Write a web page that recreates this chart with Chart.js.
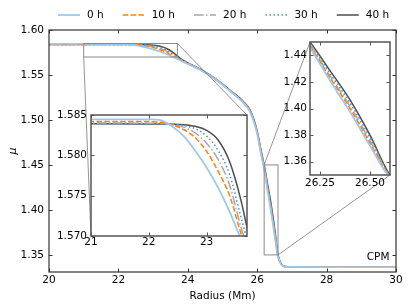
<!DOCTYPE html>
<html>
<head>
<meta charset="utf-8">
<script src="https://cdn.jsdelivr.net/npm/chart.js@4.4.1/dist/chart.umd.min.js"></script>
<style>
  html, body { margin: 0; padding: 0; background: #fff; }
  #wrap { position: relative; width: 411px; height: 308px; }
  #wrap canvas { position: absolute; left: 0; top: 0; }
</style>
</head>
<body>
<div id="wrap">
  <canvas id="main" width="411" height="308"></canvas>
  <canvas id="zoomLeft" width="411" height="308"></canvas>
  <canvas id="zoomRight" width="411" height="308"></canvas>
</div>
<script>
// Radius grid (Mm) shared by all profiles
const radius = [20, 21, 22, 22.2, 22.4, 22.6, 22.8, 23.0, 23.2, 23.4, 23.6, 23.8, 24.0, 24.4, 24.8,
                25.2, 25.6, 25.8, 26.0, 26.1, 26.2, 26.3, 26.4, 26.5, 26.6, 26.7, 26.8, 27.0, 28, 30];

// mean molecular weight at each time
const mu0h  = [1.58447, 1.58447, 1.58445, 1.58435, 1.5836, 1.5824, 1.5806, 1.5785, 1.5760, 1.5730, 1.5695, 1.5658, 1.5622, 1.5548, 1.5450,
               1.5325, 1.5190, 1.5085, 1.4845, 1.4640, 1.4455, 1.4210, 1.3975, 1.3720, 1.3480, 1.3390, 1.3370, 1.3366, 1.3365, 1.3365];
const mu10h = [1.5842, 1.5842, 1.58418, 1.5841, 1.5838, 1.5832, 1.5822, 1.5805, 1.5780, 1.5750, 1.5702, 1.5662, 1.5626, 1.5550, 1.5452,
               1.5330, 1.5195, 1.5092, 1.4855, 1.4652, 1.4468, 1.4232, 1.4000, 1.3742, 1.3485, 1.3392, 1.3370, 1.3366, 1.3365, 1.3365];
const mu20h = [1.5840, 1.5840, 1.58398, 1.58395, 1.5838, 1.5835, 1.5828, 1.5815, 1.5795, 1.5763, 1.5710, 1.5668, 1.5629, 1.5552, 1.5453,
               1.5332, 1.5198, 1.5097, 1.4862, 1.4662, 1.4478, 1.4245, 1.4018, 1.3758, 1.3490, 1.3394, 1.3370, 1.3366, 1.3365, 1.3365];
const mu30h = [1.58395, 1.58395, 1.58393, 1.5839, 1.58385, 1.5837, 1.5833, 1.5824, 1.5806, 1.5776, 1.5722, 1.5672, 1.5632, 1.5554, 1.5454,
               1.5334, 1.5201, 1.5101, 1.4868, 1.4671, 1.4490, 1.4265, 1.4042, 1.3780, 1.3495, 1.3396, 1.3371, 1.3367, 1.3366, 1.3366];
const mu40h = [1.5839, 1.5839, 1.58388, 1.58387, 1.58385, 1.5838, 1.5836, 1.5831, 1.5819, 1.5792, 1.5743, 1.5678, 1.5635, 1.5556, 1.5456,
               1.5336, 1.5205, 1.5106, 1.4876, 1.4682, 1.4500, 1.4285, 1.4065, 1.3800, 1.3500, 1.3398, 1.3372, 1.3367, 1.3366, 1.3366];

const seriesLabels = ['0 h', '10 h', '20 h', '30 h', '40 h'];
const seriesValues = [mu0h, mu10h, mu20h, mu30h, mu40h];

// tick labels
const xTicksMain  = [20, 22, 24, 26, 28, 30];
const yTicksMain  = [1.35, 1.40, 1.45, 1.50, 1.55, 1.60];
const xTicksLeft  = [21, 22, 23];
const yTicksLeft  = [1.570, 1.575, 1.580, 1.585];
const xTicksRight = [26.25, 26.50];
const yTicksRight = [1.36, 1.38, 1.40, 1.42, 1.44];

// axis limits
const mainX  = [20, 30],    mainY  = [1.331, 1.60];
const leftX  = [21, 23.7],  leftY  = [1.570, 1.585];
const rightX = [26.2, 26.6], rightY = [1.35, 1.45];

const FONT = 'DejaVu Sans';
const styles = [
    { color: '#9fc8ea', width: 1.8, dash: [] },
    { color: '#ff7f0e', width: 1.5, dash: [5.5, 2.4] },
    { color: '#a8a8a8', width: 1.5, dash: [9.6, 2.4, 1.5, 2.4] },
    { color: '#4a90d9', width: 1.5, dash: [1.5, 2.5] },
    { color: '#4d4d4d', width: 1.5, dash: [] }
];

function makeDatasets() {
    return seriesValues.map((vals, i) => ({
        label: seriesLabels[i],
        data: radius.map((r, j) => ({ x: r, y: vals[j] })),
        borderColor: styles[i].color,
        borderWidth: styles[i].width,
        borderDash: styles[i].dash,
        pointRadius: 0,
        fill: false,
        cubicInterpolationMode: 'monotone'
    }));
}

function axis(range, ticks, digits, size, pad, title) {
    return {
        type: 'linear',
        min: range[0],
        max: range[1],
        afterBuildTicks: s => { s.ticks = ticks.map(v => ({ value: v })); },
        afterFit: s => {
            if (s.isHorizontal()) s.height = size; else s.width = size;
            s.paddingLeft = s.paddingRight = s.paddingTop = s.paddingBottom = 0;
        },
        grid: { display: false, drawTicks: false },
        border: { display: false },
        ticks: {
            color: '#000',
            font: { family: FONT, size: 10.5 },
            padding: pad,
            maxRotation: 0,
            autoSkip: false,
            callback: v => v.toFixed(digits)
        },
        title: title || { display: false }
    };
}

// frame with inward ticks on all four sides
const framePlugin = {
    id: 'frame',
    beforeDatasetsDraw(chart, args, opts) {
        if (!opts.white) return;
        const a = chart.chartArea, ctx = chart.ctx;
        ctx.save();
        ctx.fillStyle = '#fff';
        ctx.fillRect(a.left, a.top, a.right - a.left, a.bottom - a.top);
        ctx.restore();
    },
    afterDatasetsDraw(chart, args, opts) {
        const a = chart.chartArea, ctx = chart.ctx;
        const xs = chart.scales.x, ys = chart.scales.y;
        const len = 3.5;
        ctx.save();
        ctx.strokeStyle = opts.color;
        ctx.lineWidth = 1;
        ctx.beginPath();
        xs.ticks.forEach(t => {
            const px = Math.round(xs.getPixelForValue(t.value)) + 0.5;
            ctx.moveTo(px, a.bottom); ctx.lineTo(px, a.bottom - len);
            ctx.moveTo(px, a.top); ctx.lineTo(px, a.top + len);
        });
        ys.ticks.forEach(t => {
            const py = Math.round(ys.getPixelForValue(t.value)) + 0.5;
            ctx.moveTo(a.left, py); ctx.lineTo(a.left + len, py);
            ctx.moveTo(a.right, py); ctx.lineTo(a.right - len, py);
        });
        ctx.stroke();
        ctx.lineWidth = opts.width;
        ctx.strokeRect(a.left, a.top, a.right - a.left, a.bottom - a.top);
        ctx.restore();
    }
};

function insetChart(id, xr, yr, xt, yt, xd, yd, pad, yw, xpad, ypad) {
    return new Chart(document.getElementById(id), {
        type: 'line',
        data: { datasets: makeDatasets() },
        options: {
            responsive: false,
            animation: false,
            events: [],
            layout: { padding: pad },
            plugins: {
                legend: { display: false },
                tooltip: { enabled: false },
                frame: { color: '#555', width: 1.5, white: true }
            },
            scales: {
                x: axis(xr, xt, xd, 20, xpad),
                y: axis(yr, yt, yd, yw, ypad)
            }
        },
        plugins: [framePlugin]
    });
}

const leftChart = insetChart('zoomLeft', leftX, leftY, xTicksLeft, yTicksLeft, 0, 3,
    { left: 41, top: 115, right: 164, bottom: 52 }, 50, 0, 4);
const rightChart = insetChart('zoomRight', rightX, rightY, xTicksRight, yTicksRight, 2, 2,
    { left: 265, top: 42, right: 21, bottom: 113 }, 45, 1.5, 3);

// zoom boxes, connectors, legend and label on the main axes
const overlayPlugin = {
    id: 'overlay',
    afterDraw(chart) {
        const ctx = chart.ctx, xs = chart.scales.x, ys = chart.scales.y;
        const boxes = [
            { xr: leftX, yr: leftY, area: leftChart.chartArea, corners: [['lo', 'lo'], ['hi', 'hi']] },
            { xr: rightX, yr: rightY, area: rightChart.chartArea, corners: [['lo', 'hi'], ['hi', 'lo']] }
        ];
        ctx.save();
        boxes.forEach(b => {
            const x0 = xs.getPixelForValue(b.xr[0]), x1 = xs.getPixelForValue(b.xr[1]);
            const y0 = ys.getPixelForValue(b.yr[0]), y1 = ys.getPixelForValue(b.yr[1]);
            ctx.strokeStyle = '#8a8a8a';
            ctx.lineWidth = 1;
            ctx.strokeRect(x0, y1, x1 - x0, y0 - y1);
            ctx.strokeStyle = '#7a7a7a';
            ctx.lineWidth = 0.8;
            ctx.beginPath();
            b.corners.forEach(([cx, cy]) => {
                const bx = cx === 'lo' ? x0 : x1;
                const by = cy === 'lo' ? y0 : y1;
                const ix = cx === 'lo' ? b.area.left : b.area.right;
                const iy = cy === 'lo' ? b.area.bottom : b.area.top;
                ctx.moveTo(bx, by); ctx.lineTo(ix, iy);
            });
            ctx.stroke();
        });

        // legend
        ctx.font = '10.5px ' + FONT;
        ctx.textBaseline = 'middle';
        ctx.textAlign = 'left';
        let x = 58;
        const y = 15;
        chart.data.datasets.forEach(ds => {
            ctx.strokeStyle = ds.borderColor;
            ctx.lineWidth = ds.borderWidth;
            ctx.setLineDash(ds.borderDash);
            ctx.beginPath();
            ctx.moveTo(x, y); ctx.lineTo(x + 22, y);
            ctx.stroke();
            ctx.setLineDash([]);
            ctx.fillStyle = '#000';
            ctx.fillText(ds.label, x + 29, y);
            x += 29 + ctx.measureText(ds.label).width + 19;
        });

        ctx.textAlign = 'right';
        ctx.fillText('CPM', 389.5, 257);
        ctx.restore();
    }
};

const mainChart = new Chart(document.getElementById('main'), {
    type: 'line',
    data: { datasets: makeDatasets() },
    options: {
        responsive: false,
        animation: false,
        events: [],
        layout: { padding: { left: 0, top: 30, right: 15, bottom: 0 } },
        plugins: {
            legend: { display: false },
            tooltip: { enabled: false },
            frame: { color: '#333', width: 1.2, white: false }
        },
        scales: {
            x: axis(mainX, xTicksMain, 0, 36, 2, {
                display: true, text: 'Radius (Mm)', color: '#000',
                font: { family: FONT, size: 10.5 }, padding: { top: 0, bottom: 5 }
            }),
            y: axis(mainY, yTicksMain, 2, 49, 5, {
                display: true, text: 'μ', color: '#000',
                font: { family: FONT, size: 11, style: 'italic' }, padding: { top: 7, bottom: 0 }
            })
        }
    },
    plugins: [framePlugin, overlayPlugin]
});
</script>
</body>
</html>
